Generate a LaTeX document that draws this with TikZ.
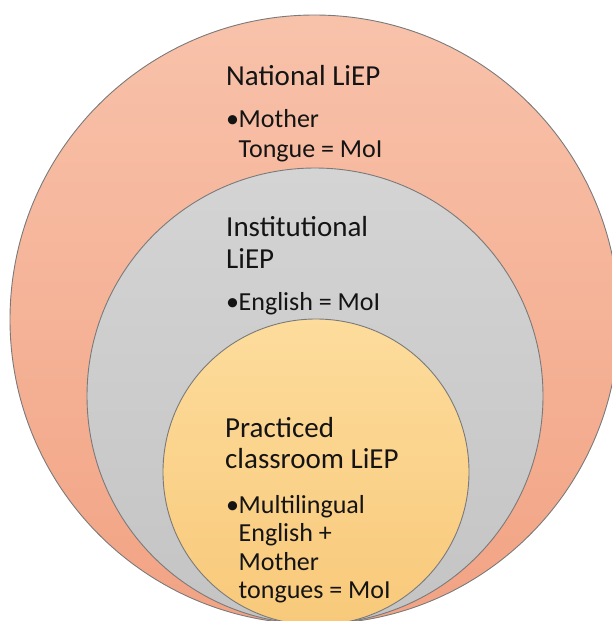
\documentclass[tikz,border=0pt]{standalone}
\usepackage{fontspec}
\setmainfont{Carlito}
\definecolor{ringline}{HTML}{7A7A7A}
\definecolor{inkc}{HTML}{141414}
\definecolor{natTop}{HTML}{F8C2AA}
\definecolor{natBot}{HTML}{F2A384}
\definecolor{instTop}{HTML}{D4D4D4}
\definecolor{instBot}{HTML}{C4C4C4}
\definecolor{pracTop}{HTML}{FDDC9C}
\definecolor{pracBot}{HTML}{F8C97A}
\newcommand{\blt}{\makebox[12.5pt][l]{•}}
\newcommand{\ind}{\hspace*{12.5pt}}
\newcommand{\lines}[1]{\begin{tabular}[t]{@{}l@{}}#1\end{tabular}}
\begin{document}
\begin{tikzpicture}[x=1pt,y=-1pt,
  ring/.style={draw=ringline, line width=0.9pt},
  title/.style={anchor=base west, inner sep=0pt, text=inkc,
    font=\fontsize{29}{32}\selectfont},
  point/.style={anchor=base west, inner sep=0pt, text=inkc,
    font=\fontsize{26}{29.5}\selectfont}]
  \useasboundingbox (0,0) rectangle (612,621);
  \clip (0,0) rectangle (612,621);
  % three nested circles touching at the bottom
  \path[ring, top color=natTop, bottom color=natBot]
    (314.5,319.5) circle[radius=304.5pt];
  \path[ring, top color=instTop, bottom color=instBot]
    (315,396) circle[radius=228pt];
  \path[ring, top color=pracTop, bottom color=pracBot]
    (316,472) circle[radius=153pt];
  % national level
  \node[title] (natT) at (226,85) {\lines{National LiEP}};
  \node[point] (natP) at (226,127.5) {\lines{\blt Mother\\ \ind Tongue = MoI}};
  % institutional level
  \node[title] (instT) at (226,236) {\lines{Institutional\\LiEP}};
  \node[point] (instP) at (226,310) {\lines{\blt English = MoI}};
  % classroom level
  \node[title, font=\fontsize{29}{31}\selectfont] (pracT) at (225,437)
    {\lines{Practiced\\classroom LiEP}};
  \node[point, font=\fontsize{26}{28.5}\selectfont] (pracP) at (226,513)
    {\lines{\blt Multilingual\\ \ind English +\\ \ind Mother\\ \ind tongues = MoI}};
\end{tikzpicture}
\end{document}
